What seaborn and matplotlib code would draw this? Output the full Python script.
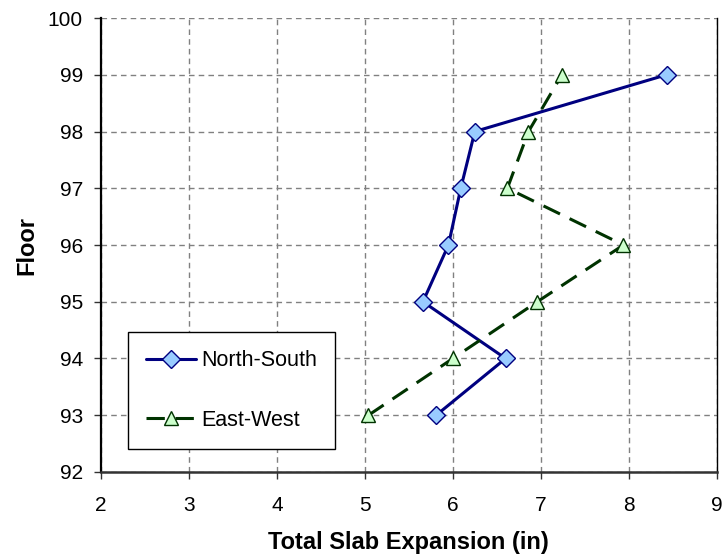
import numpy as np
import matplotlib
matplotlib.use("Agg")
import matplotlib.pyplot as plt
import pandas as pd
import seaborn as sns

floors = [93, 94, 95, 96, 97, 98, 99]
ns_expansion = [5.81, 6.60, 5.66, 5.95, 6.09, 6.25, 8.43]  # North-South
ew_expansion = [5.04, 6.00, 6.96, 7.94, 6.62, 6.86, 7.24]  # East-West

df_ns = pd.DataFrame({"Floor": floors, "Expansion": ns_expansion})
df_ew = pd.DataFrame({"Floor": floors, "Expansion": ew_expansion})

sns.set_style("white")
plt.rcParams['font.family'] = ['Liberation Sans', 'DejaVu Sans']
plt.rcParams['text.color'] = 'black'
plt.rcParams['axes.labelcolor'] = 'black'
plt.rcParams['xtick.color'] = 'black'
plt.rcParams['ytick.color'] = 'black'

fig = plt.figure(figsize=(7.22, 5.56), dpi=100)
ax = fig.add_axes([0.1399, 0.1511, 0.8528, 0.8165])

sns.lineplot(data=df_ns, x="Expansion", y="Floor", sort=False, estimator=None,
             color="#000080", lw=2.2, marker="D", ms=9, mfc="#99CCFF",
             mec="#000080", mew=1.0, label="North-South", ax=ax, zorder=3)
sns.lineplot(data=df_ew, x="Expansion", y="Floor", sort=False, estimator=None,
             color="#003300", lw=2.2, linestyle=(0, (6, 3.5)), marker="^", ms=10,
             mfc="#CCFFCC", mec="#003300", mew=1.0, label="East-West", ax=ax, zorder=3)

ax.set_xlim(2, 9)
ax.set_ylim(92, 100)
ax.set_xticks(range(2, 10))
ax.set_yticks(range(92, 101))
ax.grid(True, color="#808080", linestyle=(0, (4, 3)), linewidth=1.0)
ax.set_axisbelow(True)

ax.spines["left"].set_color("black")
ax.spines["left"].set_linewidth(1.6)
ax.spines["bottom"].set_color("#333333")
ax.spines["bottom"].set_linewidth(1.8)
ax.spines["right"].set_color("black")
ax.spines["right"].set_linewidth(1.0)
ax.spines["top"].set_visible(False)

ax.tick_params(axis="both", direction="out", length=5, width=1, color="#333333",
               labelsize=15, left=True, bottom=True, labelcolor="black")
ax.tick_params(axis="x", pad=12)
ax.tick_params(axis="y", pad=8)
ax.set_xlabel("Total Slab Expansion (in)", fontsize=17, fontweight="bold", labelpad=12)
ax.set_ylabel("Floor", fontsize=17, fontweight="bold", labelpad=7)

leg = ax.legend(loc="lower left", bbox_to_anchor=(0.044, 0.05), fontsize=15.5,
                frameon=True, fancybox=False, edgecolor="black", framealpha=1,
                labelspacing=1.8, handlelength=2.3, borderpad=0.85, handletextpad=0.25,
                borderaxespad=0)
leg.get_frame().set_linewidth(1.0)

fig.savefig("out.png", dpi=100)
